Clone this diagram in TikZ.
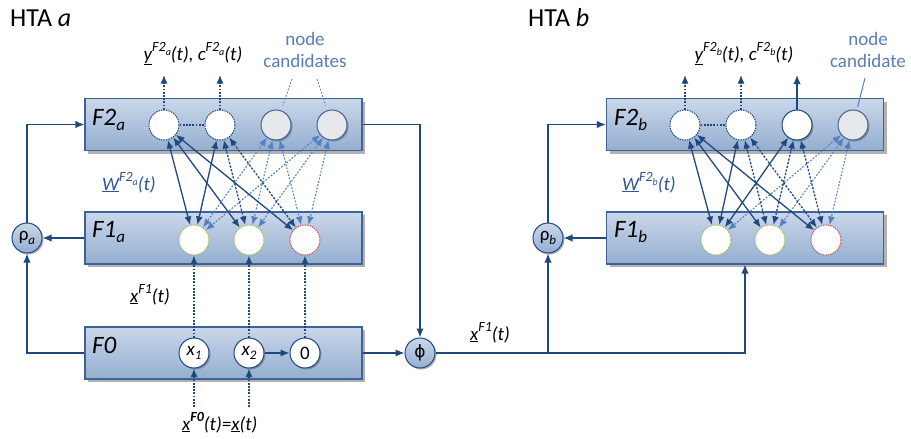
\documentclass[tikz,border=0pt]{standalone}
\usepackage{fontspec}
\setmainfont{Carlito}
\newfontfamily\dejavu{DejaVu Sans}
\usetikzlibrary{arrows.meta,shadows,calc}

\definecolor{dkblue}{RGB}{31,73,125}
\definecolor{bxborder}{RGB}{60,98,152}
\definecolor{bxtop}{RGB}{202,215,233}
\definecolor{bxbot}{RGB}{148,174,208}
\definecolor{ltblue}{RGB}{84,130,192}
\definecolor{txtblue}{RGB}{90,125,180}
\definecolor{wblue}{RGB}{45,85,150}
\definecolor{candfill}{RGB}{230,232,236}
\definecolor{ggreen}{RGB}{155,187,89}
\definecolor{rred}{RGB}{200,80,77}

\newcommand{\supx}[1]{\raisebox{0.45em}{\fontsize{14}{14}\selectfont #1}}
\newcommand{\subx}[1]{\raisebox{-0.3em}{\fontsize{10}{10}\selectfont #1}}
\newcommand{\laysub}[1]{\raisebox{-0.22em}{\fontsize{17}{17}\selectfont #1}}
\newcommand{\nsub}[1]{\raisebox{-0.25em}{\fontsize{13}{13}\selectfont #1}}

\begin{document}
\begin{tikzpicture}[x=1pt,y=-1pt,
  layer/.style={draw=bxborder, line width=1.1pt, top color=bxtop, bottom color=bxbot,
    minimum width=277pt, minimum height=52pt, inner sep=0pt,
    drop shadow={shadow xshift=3pt, shadow yshift=-3pt, fill=black, opacity=0.3}},
  unit/.style={circle, minimum size=30pt, inner sep=0pt, line width=1pt},
  committed/.style={unit, draw=dkblue, fill=white, dash pattern=on 1.5pt off 1pt},
  cand/.style={unit, draw=dkblue!85, fill=candfill,
    drop shadow={shadow xshift=1.5pt, shadow yshift=-1.5pt, fill=black, opacity=0.25}},
  activeu/.style={unit, draw=dkblue, fill=white,
    drop shadow={shadow xshift=1.5pt, shadow yshift=-1.5pt, fill=black, opacity=0.25}},
  fone/.style={unit, fill=white, dash pattern=on 1.5pt off 1pt},
  fzero/.style={unit, draw=dkblue, fill=white,
    drop shadow={shadow xshift=1.5pt, shadow yshift=-1.5pt, fill=black, opacity=0.25},
    font=\fontsize{19}{19}\selectfont},
  op/.style={circle, minimum size=30pt, inner sep=0pt, draw=dkblue, line width=1pt,
    top color=bxtop, bottom color=bxbot,
    drop shadow={shadow xshift=1.5pt, shadow yshift=-1.5pt, fill=black, opacity=0.3}},
  laylab/.style={anchor=west, inner sep=0pt, font=\fontsize{25}{27}\selectfont\itshape},
  txt/.style={inner sep=0pt, font=\fontsize{19}{22}\selectfont\itshape},
  conn/.style={draw=dkblue, line width=1.4pt, -{Latex[length=9pt,width=7.5pt]}},
  bi/.style={draw=dkblue, line width=1.3pt, {Latex[length=8.5pt,width=7pt]}-{Latex[length=8.5pt,width=7pt]}},
  bid/.style={bi, dash pattern=on 2.2pt off 1.5pt},
  bil/.style={draw=ltblue, line width=1.1pt, dash pattern=on 1.8pt off 1.6pt,
    {Latex[length=8.5pt,width=7pt]}-{Latex[length=8.5pt,width=7pt]}},
  upd/.style={draw=dkblue, line width=1.3pt, dash pattern=on 1.8pt off 1.4pt, -{Latex[length=8.5pt,width=7pt]}},
  dlink/.style={draw=dkblue, line width=1.3pt, dash pattern=on 1.8pt off 1.4pt},
  ptrd/.style={draw=ltblue, line width=0.9pt, dash pattern=on 1.8pt off 1.6pt, shorten >=5pt},
  ptr/.style={draw=ltblue, line width=1pt, shorten >=3pt}
]
\useasboundingbox (0,0) rectangle (911,439);

% ---------------- HTA a ----------------
\node[anchor=base west, inner sep=0pt, font=\fontsize{26}{28}\selectfont] (htaa) at (10,26) {HTA \textit{a}};

\node[layer] (F2a) at (223.5,124.5) {};
\node[layer] (F1a) at (223.5,238) {};
\node[layer] (F0a) at (223.5,353) {};
\node[laylab] (F2alab) at (92,120) {F2\laysub{a}};
\node[laylab] (F1alab) at (92,232) {F1\laysub{a}};
\node[laylab] (F0alab) at (92,345) {F0};

\node[committed] (a21) at (164,125) {};
\node[committed] (a22) at (220,125) {};
\node[cand] (a23) at (276,125) {};
\node[cand] (a24) at (332,125) {};

\node[fone, draw=ggreen] (a11) at (194,240) {};
\node[fone, draw=ggreen] (a12) at (249,240) {};
\node[fone, draw=rred] (a13) at (305,240) {};

\node[fzero] (ax1) at (194,353) {\itshape x\nsub{1}};
\node[fzero] (ax2) at (249,353) {\itshape x\nsub{2}};
\node[fzero] (ax0) at (305,353) {0};

\node[op] (rhoa) at (27,238) {\fontsize{19}{19}\selectfont ρ\nsub{\itshape a}};
\node[op] (phi) at (420,353) {\dejavu\fontsize{17}{17}\selectfont ϕ};

% labels
\node[txt, anchor=base] (ylaba) at (193,60) {\underline{y}\supx{F2\subx{a}}(t), c\supx{F2\subx{a}}(t)};
\node[txt, anchor=base, align=center, text=txtblue, font=\fontsize{19}{22}\selectfont] (nca) at (305,67) {node\\candidates};
\node[txt, anchor=base west, text=wblue] (wa) at (102,190) {\underline{W}\supx{F2\subx{a}}(t)};
\node[txt, anchor=base west] (xf1a) at (130,302) {\underline{x}\supx{F1}(t)};
\node[txt, anchor=base west] (xf0) at (182,430) {\underline{x}\supx{\bfseries F0}(t)=\underline{x}(t)};

% pointers from node candidates
\coordinate (pa1) at (292,79);
\coordinate (pa2) at (317,79);
\draw[ptrd] (pa1) -- (a23);
\draw[ptrd] (pa2) -- (a24);

% output arrows
\coordinate (ya1) at (164,75);
\coordinate (ya2) at (220,75);
\draw[upd] (a21) -- (ya1);
\draw[upd] (a22) -- (ya2);
\draw[dlink] (a21) -- (a22);

% F1-F2 weights
\draw[bil] (a23) -- (a11);
\draw[bil] (a23) -- (a12);
\draw[bil] (a23) -- (a13);
\draw[bil] (a24) -- (a11);
\draw[bil] (a24) -- (a12);
\draw[bil] (a24) -- (a13);
\draw[bid] (a22) -- (a12);
\draw[bid] (a22) -- (a13);
\draw[bi] (a21) -- (a11);
\draw[bi] (a21) -- (a12);
\draw[bi] (a21) -- (a13);
\draw[bi] (a22) -- (a11);

% F0 -> F1
\draw[upd] (ax1) -- (a11);
\draw[upd] (ax2) -- (a12);
\draw[upd] (ax0) -- (a13);
\draw[conn] (ax2) -- (ax0);
\coordinate (in1) at (194,407);
\coordinate (in2) at (249,407);
\draw[upd] (in1) -- (ax1);
\draw[upd] (in2) -- (ax2);

% feedback a
\draw[conn] (F0a.west) -| (rhoa);
\draw[conn] (rhoa) |- (F2a.west);
\draw[conn] (F1a.west) -- (rhoa);
\draw[conn] (F2a.east) -| (phi);
\draw[conn] (F0a.east) -- (phi);

% ---------------- HTA b ----------------
\node[anchor=base west, inner sep=0pt, font=\fontsize{26}{28}\selectfont] (htab) at (528,26) {HTA \textit{b}};

\node[layer] (F2b) at (745,124.5) {};
\node[layer] (F1b) at (745,238) {};
\node[laylab] (F2blab) at (614,120) {F2\laysub{b}};
\node[laylab] (F1blab) at (614,232) {F1\laysub{b}};

\node[committed] (b21) at (685,125) {};
\node[committed] (b22) at (741,125) {};
\node[activeu] (b23) at (797,125) {};
\node[cand] (b24) at (853,125) {};

\node[fone, draw=ggreen] (b11) at (716,240) {};
\node[fone, draw=ggreen] (b12) at (770,240) {};
\node[fone, draw=rred] (b13) at (826,240) {};

\node[op] (rhob) at (548,238) {\fontsize{19}{19}\selectfont ρ\nsub{\itshape b}};

\node[txt, anchor=base] (ylabb) at (744,60) {\underline{y}\supx{F2\subx{b}}(t), c\supx{F2\subx{b}}(t)};
\node[txt, anchor=base, align=center, text=txtblue, font=\fontsize{19}{22}\selectfont] (ncb) at (868,67) {node\\candidate};
\node[txt, anchor=base west, text=wblue] (wb) at (622,190) {\underline{W}\supx{F2\subx{b}}(t)};
\node[txt, anchor=base west] (xf1b) at (470,340) {\underline{x}\supx{F1}(t)};

\coordinate (pb1) at (865,78);
\draw[ptr] (pb1) -- (b24);

\coordinate (yb1) at (685,75);
\coordinate (yb2) at (741,75);
\coordinate (yb3) at (797,75);
\draw[upd] (b21) -- (yb1);
\draw[upd] (b22) -- (yb2);
\draw[conn] (b23) -- (yb3);
\draw[dlink] (b21) -- (b22);

\draw[bil] (b24) -- (b11);
\draw[bil] (b24) -- (b12);
\draw[bil] (b24) -- (b13);
\draw[bid] (b22) -- (b12);
\draw[bid] (b22) -- (b13);
\draw[bid] (b23) -- (b12);
\draw[bid] (b23) -- (b13);
\draw[bi] (b21) -- (b11);
\draw[bi] (b21) -- (b12);
\draw[bi] (b21) -- (b13);
\draw[bi] (b22) -- (b11);
\draw[bi] (b23) -- (b11);

% feedback b
\coordinate (br) at (548,353);
\draw[conn] (phi) -| (F1b.south);
\draw[conn] (br) -- (rhob);
\draw[conn] (rhob) |- (F2b.west);
\draw[conn] (F1b.west) -- (rhob);
\end{tikzpicture}
\end{document}
